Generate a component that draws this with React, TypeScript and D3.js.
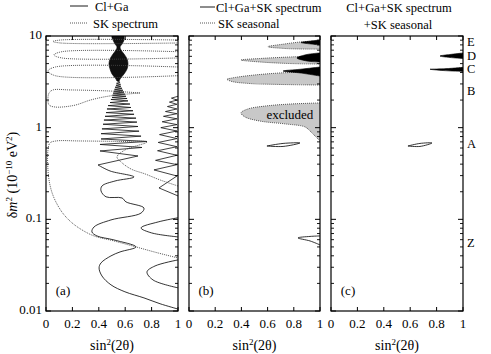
import React from "react";
import * as d3 from "d3";

type P = [number, number];

const W = 491;
const H = 354;

const yTicks = [0.01, 0.1, 1, 10];
const yTickLabels = ["0.01", "0.1", "1", "10"];
const xTicks = [0, 0.2, 0.4, 0.6, 0.8, 1];
const xTickLabels = ["0", "0.2", "0.4", "0.6", "0.8", "1"];
const panelLetters = ["(a)", "(b)", "(c)"];
const solutionLabels = ["E", "D", "C", "B", "A", "Z"];
const solutionDm = [8.4, 5.9, 4.26, 2.45, 0.65, 0.054];

// ---------- panel (a): Cl+Ga (solid) ----------
const aBlob: P[] = [
  [0.591, 10], [0.591, 9.04], [0.576, 8.18], [0.561, 7.59], [0.568, 7.03], [0.591, 6.36],
  [0.614, 5.61], [0.621, 4.95], [0.614, 4.37], [0.591, 3.85], [0.561, 3.4], [0.553, 3.23],
  [0.538, 3.23], [0.53, 3.4], [0.5, 3.85], [0.485, 4.37], [0.477, 4.95], [0.485, 5.61],
  [0.508, 6.36], [0.53, 7.03], [0.538, 7.59], [0.523, 8.18], [0.508, 9.04], [0.5, 10],
];
const aZigzag: P[] = [
  [0.545, 3.23], [0.561, 3.13], [0.534, 3.05], [0.565, 2.97], [0.53, 2.9], [0.568, 2.83],
  [0.523, 2.76], [0.576, 2.69], [0.519, 2.62], [0.583, 2.56], [0.515, 2.5], [0.591, 2.44],
  [0.508, 2.38], [0.598, 2.32], [0.504, 2.26], [0.606, 2.2], [0.5, 2.14], [0.614, 2.08],
  [0.492, 2.03], [0.621, 1.96], [0.485, 1.88], [0.636, 1.81], [0.47, 1.74], [0.644, 1.66],
  [0.462, 1.6], [0.659, 1.53], [0.455, 1.46], [0.667, 1.4], [0.447, 1.33], [0.682, 1.27],
  [0.439, 1.21], [0.689, 1.15], [0.432, 1.09], [0.697, 1.03], [0.424, 0.97], [0.705, 0.916],
  [0.417, 0.86], [0.72, 0.808], [0.417, 0.753], [0.765, 0.707], [0.409, 0.656], [0.727, 0.608],
  [0.409, 0.557], [0.697, 0.491], [0.394, 0.392],
];
const aWave: P[] = [
  [0.394, 0.392], [0.485, 0.337], [0.667, 0.29], [0.523, 0.262], [0.424, 0.231], [0.417, 0.204],
  [0.455, 0.176], [0.576, 0.171], [0.606, 0.155], [0.742, 0.133], [0.72, 0.117], [0.492, 0.0985],
  [0.364, 0.0826], [0.348, 0.0729], [0.386, 0.0659], [0.515, 0.0596], [0.682, 0.05], [0.561, 0.0441],
  [0.492, 0.0399], [0.417, 0.0335], [0.402, 0.0295], [0.424, 0.0241], [0.492, 0.0193], [0.598, 0.0162],
  [0.742, 0.0139], [0.864, 0.012], [1, 0.0105],
];
const aRightZigzag: P[] = [
  [1, 2.2], [0.95, 2.1], [0.992, 2.0], [0.935, 1.9], [0.992, 1.8], [0.92, 1.7],
  [0.992, 1.6], [0.905, 1.5], [0.992, 1.42], [0.89, 1.33], [0.992, 1.25], [0.88, 1.16],
  [0.992, 1.08], [0.87, 1.0], [0.992, 0.92], [0.86, 0.84], [0.992, 0.76], [0.85, 0.69],
  [0.992, 0.62], [0.845, 0.56], [0.992, 0.5], [0.83, 0.44], [0.992, 0.395], [0.818, 0.346],
  [0.992, 0.297], [0.856, 0.22], [1, 0.18],
];
const aRightC1: P[] = [[1, 0.104], [0.85, 0.0937], [0.72, 0.0806], [0.8, 0.0711], [1, 0.0643]];
const aRightC2: P[] = [[1, 0.0361], [0.826, 0.031], [0.765, 0.0267], [0.811, 0.0218], [1, 0.0179]];

// ---------- panel (a): SK spectrum (dotted) ----------
const skLobe1: P[] = [[1, 9.04], [0.11, 9.04], [0.053, 8.71], [0.11, 8.39], [1, 8.39]];
const skLobe2: P[] = [[1, 6.74], [0.12, 6.74], [0.06, 6.21], [0.12, 5.76], [1, 5.76]];
const skLobe3: P[] = [[1, 4.59], [0.07, 4.59], [0.015, 4.15], [0.07, 3.69], [1, 3.69]];
const skLobe4: P[] = [
  [0.712, 2.39], [0.485, 2.51], [0.182, 2.58], [0.053, 2.58], [0.023, 2.39], [0.015, 2.01],
  [0.023, 1.77], [0.068, 1.68], [0.212, 1.75], [0.341, 2.01], [0.485, 2.22], [0.712, 2.39],
];
const skBig: P[] = [
  [1, 0.231], [0.864, 0.269], [0.75, 0.313], [0.644, 0.354], [0.568, 0.423], [0.538, 0.479],
  [0.598, 0.571], [0.765, 0.698], [0.561, 0.707], [0.258, 0.716], [0.076, 0.716], [0.03, 0.681],
  [0.015, 0.571], [0.015, 0.346], [0.03, 0.237], [0.061, 0.171], [0.121, 0.12], [0.189, 0.0937],
  [0.273, 0.0766], [0.364, 0.0659], [0.515, 0.0581], [0.682, 0.05], [0.848, 0.043], [1, 0.0379],
];

// ---------- panel (b) ----------
const bGray1: P[] = [[1, 8.82], [0.85, 8.6], [0.73, 8.18], [0.603, 7.64], [0.73, 7.31], [0.85, 7.22], [1, 7.2]];
const bGray2: P[] = [[1, 6.05], [0.77, 5.9], [0.54, 5.68], [0.397, 5.47], [0.54, 5.21], [0.77, 5.01], [1, 4.95]];
const bGray3: P[] = [
  [1, 4.1], [0.695, 3.95], [0.466, 3.71], [0.328, 3.48], [0.29, 3.37], [0.328, 3.19],
  [0.466, 3.03], [0.695, 2.96], [1, 2.92],
];
const bGray4: P[] = [
  [1, 1.86], [0.771, 1.81], [0.58, 1.72], [0.45, 1.6], [0.397, 1.45], [0.427, 1.31],
  [0.542, 1.18], [0.733, 1.1], [0.885, 1.02], [0.924, 0.92], [0.962, 0.812], [1, 0.716],
];
const bBlack1: P[] = [[1, 9.04], [0.93, 8.82], [0.855, 8.49], [0.93, 8.18], [1, 7.98]];
const bBlack2: P[] = [[1, 6.53], [0.9, 6.28], [0.824, 5.76], [0.9, 5.34], [1, 5.21]];
const bBlack3: P[] = [[1, 4.59], [0.85, 4.34], [0.718, 4.15], [0.85, 3.95], [1, 3.66]];
const bLensA: P[] = [[0.595, 0.631], [0.718, 0.673], [0.847, 0.681], [0.718, 0.624], [0.595, 0.631]];
const bFingerZ: P[] = [[1, 0.0659], [0.924, 0.0651], [0.832, 0.0627], [0.924, 0.0581], [1, 0.0526]];

// ---------- panel (c) ----------
const cBlackD: P[] = [[1, 6.53], [0.9, 6.28], [0.826, 6.05], [0.9, 5.83], [1, 5.68]];
const cBlackC: P[] = [[1, 4.55], [0.85, 4.38], [0.75, 4.34], [0.85, 4.2], [1, 4.1]];
const cLensA: P[] = [[0.583, 0.631], [0.674, 0.673], [0.765, 0.681], [0.674, 0.624], [0.583, 0.631]];

const TOP = 36;
const BOTTOM = 311;
const panels = [
  { x0: 46, x1: 178 },
  { x0: 189, x1: 320 },
  { x0: 331, x1: 463 },
];
const FONT = "'Liberation Serif', 'Times New Roman', Times, serif";
const tf = (size: number) => ({ fontFamily: FONT, fontSize: size + "px" });

const yScale = d3.scaleLog().domain([0.01, 10]).range([BOTTOM, TOP]);

function Axes({ i }: { i: number }) {
  const { x0, x1 } = panels[i];
  const x = d3.scaleLinear().domain([0, 1]).range([x0, x1]);
  const minor: number[] = [];
  [0.01, 0.1, 1].forEach((dec) => {
    for (let k = 2; k <= 9; k++) minor.push(dec * k);
  });
  return (
    <g>
      <rect x={x0} y={TOP} width={x1 - x0} height={BOTTOM - TOP} fill="none" stroke="#000" strokeWidth={1.2} />
      {xTicks.map((t) => (
        <g key={"xt" + t}>
          <line x1={x(t)} x2={x(t)} y1={BOTTOM} y2={BOTTOM - 4} stroke="#000" strokeWidth={1} />
          <line x1={x(t)} x2={x(t)} y1={TOP} y2={TOP + 4} stroke="#000" strokeWidth={1} />
        </g>
      ))}
      {yTicks.map((t) => (
        <g key={"yt" + t}>
          <line x1={x0} x2={x0 + 5} y1={yScale(t)} y2={yScale(t)} stroke="#000" strokeWidth={1} />
          <line x1={x1} x2={x1 - 5} y1={yScale(t)} y2={yScale(t)} stroke="#000" strokeWidth={1} />
        </g>
      ))}
      {minor.map((t) => (
        <g key={"ym" + t}>
          <line x1={x0} x2={x0 + 3} y1={yScale(t)} y2={yScale(t)} stroke="#000" strokeWidth={0.9} />
          <line x1={x1} x2={x1 - 3} y1={yScale(t)} y2={yScale(t)} stroke="#000" strokeWidth={0.9} />
        </g>
      ))}
      {xTicks.map((t, k) => (
        <text key={"xl" + t} x={x(t)} y={328} textAnchor="middle" style={tf(13)}>
          {xTickLabels[k]}
        </text>
      ))}
      <text x={(x0 + x1) / 2} y={350} textAnchor="middle" style={tf(14)}>
        sin<tspan dy={-5} style={tf(9)}>2</tspan>
        <tspan dy={5}>(2θ)</tspan>
      </text>
      <text x={x0 + 17} y={295} textAnchor="middle" style={tf(13)}>
        {panelLetters[i]}
      </text>
    </g>
  );
}

export default function App() {
  const xa = d3.scaleLinear().domain([0, 1]).range([panels[0].x0, panels[0].x1]);
  const xb = d3.scaleLinear().domain([0, 1]).range([panels[1].x0, panels[1].x1]);
  const xc = d3.scaleLinear().domain([0, 1]).range([panels[2].x0, panels[2].x1]);
  const mk = (xs: d3.ScaleLinear<number, number>, curve: d3.CurveFactory) =>
    d3.line<P>().x((d) => xs(d[0])).y((d) => yScale(d[1])).curve(curve);
  const laLin = mk(xa, d3.curveLinear);
  const laSm = mk(xa, d3.curveCatmullRom.alpha(0.5));
  const lbSm = mk(xb, d3.curveCatmullRom.alpha(0.5));
  const lcSm = mk(xc, d3.curveCatmullRom.alpha(0.5));
  const dotted = { fill: "none", stroke: "#444", strokeWidth: 0.9, strokeDasharray: "1,1" };
  const solid = { fill: "none", stroke: "#000", strokeWidth: 0.8 };
  const thin = { fill: "none", stroke: "#111", strokeWidth: 0.8 };

  return (
    <svg width={W} height={H} style={{ position: "absolute", left: 0, top: 0, background: "#fff" }}>
      <defs>
        {panels.map((p, i) => (
          <clipPath id={"clip" + i} key={i}>
            <rect x={p.x0} y={TOP} width={p.x1 - p.x0} height={BOTTOM - TOP} />
          </clipPath>
        ))}
      </defs>
      <rect width={W} height={H} fill="#fff" />

      {/* panel a */}
      <g clipPath="url(#clip0)">
        <path d={laSm([...aBlob, aBlob[0]]) || ""} fill="#111" stroke="#000" strokeWidth={0.6} />
        <path d={laLin(aZigzag) || ""} {...thin} />
        <path d={laSm(aWave) || ""} {...solid} />
        <path d={laLin(aRightZigzag) || ""} {...thin} />
        <path d={laSm(aRightC1) || ""} {...solid} />
        <path d={laSm(aRightC2) || ""} {...solid} />
        <path d={laSm(skLobe1) || ""} {...dotted} />
        <path d={laSm(skLobe2) || ""} {...dotted} />
        <path d={laSm(skLobe3) || ""} {...dotted} />
        <path d={laSm(skLobe4) || ""} {...dotted} />
        <path d={laSm(skBig) || ""} {...dotted} />
      </g>

      {/* panel b */}
      <g clipPath="url(#clip1)">
        {[bGray1, bGray2, bGray3, bGray4].map((g, k) => (
          <path key={k} d={lbSm(g) || ""} fill="#c8c8c8" stroke="#444" strokeWidth={0.9} strokeDasharray="1,1" />
        ))}
        {[bBlack1, bBlack2, bBlack3].map((g, k) => (
          <path key={k} d={lbSm(g) || ""} fill="#000" stroke="#000" strokeWidth={0.6} />
        ))}
        <path d={lbSm(bLensA) || ""} {...solid} />
        <path d={lbSm(bFingerZ) || ""} {...solid} />
        <text x={xb(0.77)} y={yScale(1.33)} textAnchor="middle" dominantBaseline="middle" style={tf(13)}>
          excluded
        </text>
      </g>

      {/* panel c */}
      <g clipPath="url(#clip2)">
        <path d={lcSm(cBlackD) || ""} fill="#000" stroke="#000" strokeWidth={0.6} />
        <path d={lcSm(cBlackC) || ""} fill="#000" stroke="#000" strokeWidth={0.6} />
        <path d={lcSm(cLensA) || ""} {...solid} />
      </g>

      {panels.map((_, i) => (
        <Axes key={i} i={i} />
      ))}

      {yTicks.map((t, k) => (
        <text key={"yl" + t} x={42} y={yScale(t)} textAnchor="end" dominantBaseline="middle" style={tf(13)}>
          {yTickLabels[k]}
        </text>
      ))}

      {solutionLabels.map((s, k) => (
        <text key={s} x={467} y={yScale(solutionDm[k])} dominantBaseline="middle" style={tf(12.5)}>
          {s}
        </text>
      ))}

      <text transform="translate(17,175) rotate(-90)" textAnchor="middle" style={tf(14)}>
        δ<tspan fontStyle="italic">m</tspan>
        <tspan dy={-5} style={tf(9)}>2</tspan>
        <tspan dy={5}> (10</tspan>
        <tspan dy={-5} style={tf(9)}>−10</tspan>
        <tspan dy={5}> eV</tspan>
        <tspan dy={-5} style={tf(9)}>2</tspan>
        <tspan dy={5}>)</tspan>
      </text>

      {/* legends */}
      <line x1={70} x2={88} y1={6} y2={6} stroke="#000" strokeWidth={0.9} />
      <text x={95} y={10.5} style={tf(12.5)}>Cl+Ga</text>
      <line x1={70} x2={88} y1={23} y2={23} {...dotted} />
      <text x={93} y={27.5} style={tf(12.5)}>SK spectrum</text>

      <line x1={200} x2={215} y1={7} y2={7} stroke="#000" strokeWidth={0.9} />
      <text x={216} y={11.5} style={tf(12.5)}>Cl+Ga+SK spectrum</text>
      <line x1={200} x2={215} y1={23} y2={23} {...dotted} />
      <text x={218} y={27.5} style={tf(12.5)}>SK seasonal</text>

      <text x={399} y={12} textAnchor="middle" style={tf(12.5)}>Cl+Ga+SK spectrum</text>
      <text x={398} y={28.5} textAnchor="middle" style={tf(12.5)}>+SK seasonal</text>
    </svg>
  );
}
